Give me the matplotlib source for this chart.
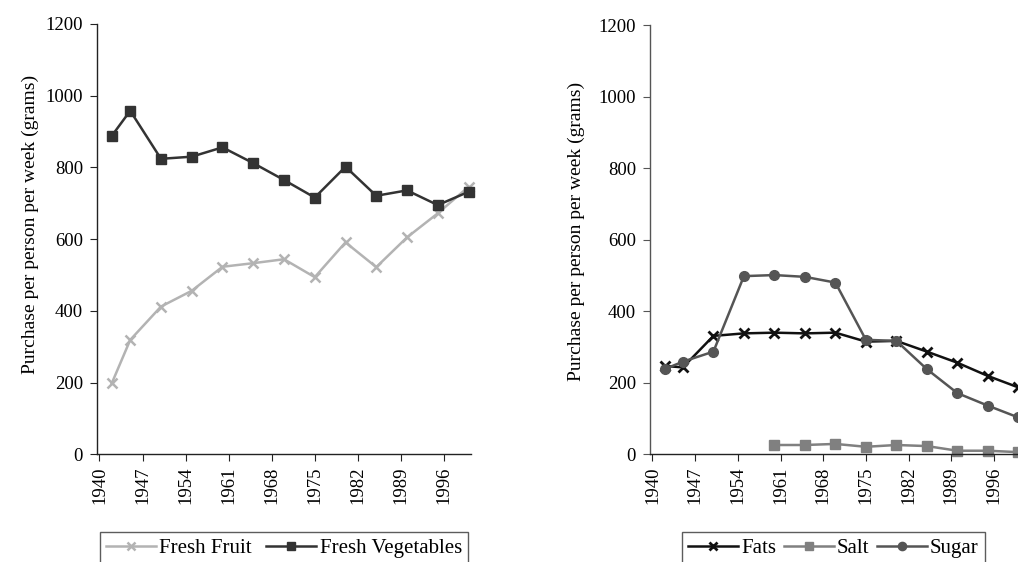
import matplotlib
matplotlib.use("Agg")
import matplotlib.pyplot as plt
import numpy as np

plt.rcParams['font.family'] = ['Liberation Serif', 'DejaVu Serif']

years = [1942, 1945, 1950, 1955, 1960, 1965, 1970, 1975, 1980, 1985, 1990, 1995, 2000]
fresh_fruit = [198, 319, 412, 456, 523, 533, 544, 494, 591, 522, 605, 672, 746]
fresh_veg = [888, 958, 824, 830, 856, 812, 765, 716, 802, 721, 736, 695, 732]

fats = [247, 243, 331, 338, 340, 338, 340, 315, 317, 287, 256, 219, 187]
salt_years = [1960, 1965, 1970, 1975, 1980, 1985, 1990, 1995, 2000]
salt = [26, 26, 29, 21, 26, 23, 10, 10, 6]
sugar = [238, 259, 287, 498, 501, 496, 480, 320, 317, 238, 171, 136, 103]

tick_years = [1940, 1947, 1954, 1961, 1968, 1975, 1982, 1989, 1996]
ylabel = 'Purchase per person per week (grams)'

W, H = 1018, 562
fig = plt.figure(figsize=(W / 100, H / 100), dpi=100)

def px_axes(x0, y0, x1, y1):
    return fig.add_axes([x0 / W, 1 - y1 / H, (x1 - x0) / W, (y1 - y0) / H])

ax1 = px_axes(97, 24, 471, 454.3)
ax2 = px_axes(650, 25, 1022, 454.3)

fs = 13.5
for ax, sc, lc in ((ax1, '#222222', (-0.155, 0.535)), (ax2, '#555555', (-0.175, 0.518))):
    for s in ('top', 'right'):
        ax.spines[s].set_visible(False)
    ax.spines['left'].set_color(sc)
    ax.spines['bottom'].set_color('#222222')
    ax.spines['left'].set_linewidth(1.0)
    ax.spines['bottom'].set_linewidth(1.0)
    ax.set_ylim(0, 1200)
    ax.set_yticks(range(0, 1201, 200))
    ax.set_xticks(tick_years)
    ax.set_xticklabels([str(t) for t in tick_years], rotation=90)
    ax.tick_params(axis='both', labelsize=fs, length=5, direction='out')
    ax.tick_params(axis='x', colors='#222222', labelcolor='black', pad=4)
    ax.tick_params(axis='y', colors=sc, labelcolor='black', pad=5)
    ax.set_ylabel(ylabel, fontsize=14)
    ax.yaxis.set_label_coords(*lc)

ax1.set_xlim(1939.6, 2000.4)
ax2.set_xlim(1939.6, 2000.6)

lw, ms = 1.8, 6.5
ax1.plot(years, fresh_fruit, color='#b3b3b3', lw=lw, marker='x', ms=ms + 1, mew=1.8, label='Fresh Fruit', clip_on=False)
ax1.plot(years, fresh_veg, color='#333333', lw=lw, marker='s', ms=ms, label='Fresh Vegetables', clip_on=False)

ax2.plot(years, fats, color='#111111', lw=lw, marker='x', ms=ms + 1, mew=2.0, label='Fats', clip_on=False)
ax2.plot(salt_years, salt, color='#808080', lw=lw, marker='s', ms=ms, label='Salt', clip_on=False)
ax2.plot(years, sugar, color='#555555', lw=lw, marker='o', ms=ms + 0.5, label='Sugar', clip_on=False)

def fig_legend(ax, x0, x1, ncol):
    h, l = ax.get_legend_handles_labels()
    leg = fig.legend(h, l, loc='upper left', ncol=ncol, mode='expand',
                     bbox_to_anchor=(x0 / W, -0.1, (x1 - x0) / W, 0.1 + 1 - 532 / H),
                     frameon=True, fancybox=False, fontsize=15, markerscale=0.85,
                     handlelength=2.4, handletextpad=0.15, columnspacing=0.5,
                     borderpad=0.3, borderaxespad=0)
    leg.get_frame().set_edgecolor('#333333')
    leg.get_frame().set_linewidth(1.0)
    return leg

fig_legend(ax1, 100, 468, 2)
fig_legend(ax2, 682, 985, 3)

fig.savefig('out.png', dpi=100)
